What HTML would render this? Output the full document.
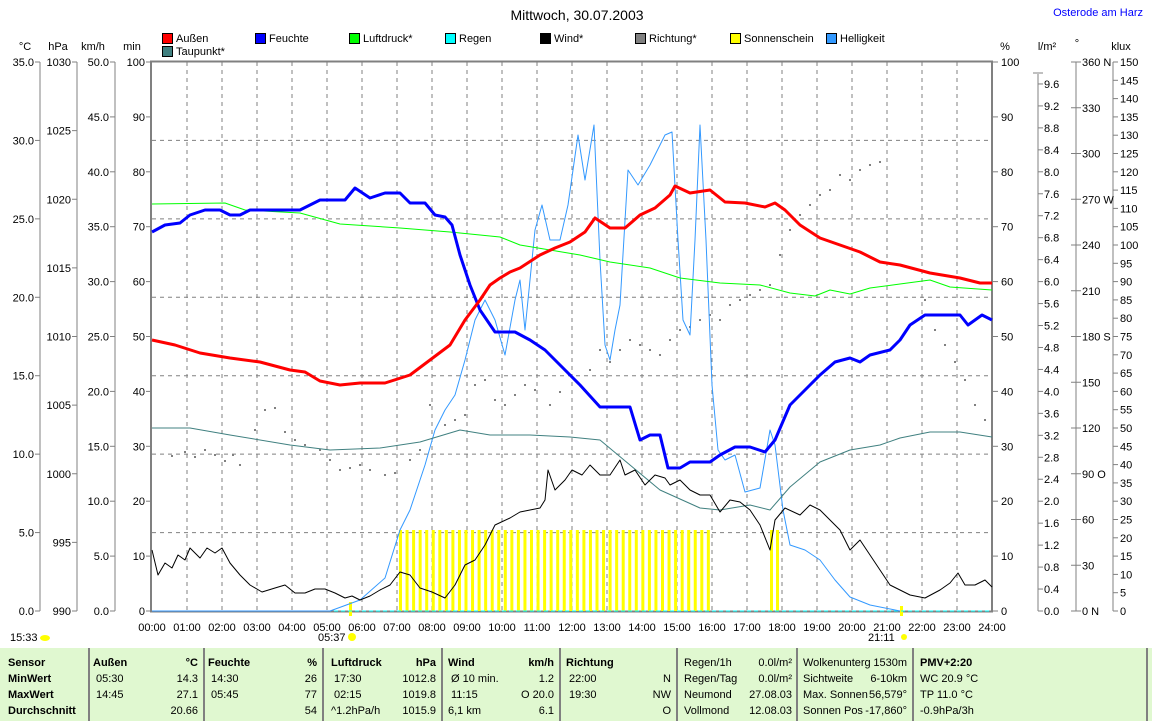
<!DOCTYPE html>
<html><head><meta charset="utf-8"><style>
body{margin:0;background:#fff;}
svg{display:block;font-family:"Liberation Sans",sans-serif;font-size:11px;}
</style></head><body>
<svg id="s" width="1152" height="721" xmlns="http://www.w3.org/2000/svg"></svg>
<script>
const S=document.getElementById('s');let h='';
const T=(x,y,t,a='start',extra='')=>{h+=`<text x="${x}" y="${y}" text-anchor="${a}" ${extra}>${t}</text>`;};
const L=(x1,y1,x2,y2,c='#808080',w=1,d='')=>{h+=`<line x1="${x1}" y1="${y1}" x2="${x2}" y2="${y2}" stroke="${c}" stroke-width="${w}" ${d?`stroke-dasharray="${d}"`:''}/>`;};
const P=(pts,c,w=1)=>{h+=`<polyline fill="none" stroke="${c}" stroke-width="${w}" stroke-linejoin="round" points="${pts.map(p=>p.join(',')).join(' ')}"/>`;};
const Y0=611,Y1=62,H=549;
T(577,20,'Mittwoch, 30.07.2003','middle','font-size="14"');
T(1143,16,'Osterode am Harz','end','fill="#0000ff"');
const leg=[[163,38,'#ff0000','Außen'],[256,38,'#0000ff','Feuchte'],[350,38,'#00ff00','Luftdruck*'],[446,38,'#00ffff','Regen'],[541,38,'#000000','Wind*'],[636,38,'#808080','Richtung*'],[731,38,'#ffff00','Sonnenschein'],[827,38,'#3399ff','Helligkeit'],[163,51,'#408080','Taupunkt*']];
leg.forEach(l=>{h+=`<rect x="${l[0]-0.5}" y="${l[1]-4.5}" width="10" height="10" fill="${l[2]}" stroke="#000"/>`;T(l[0]+13,l[1]+4,l[3]);});
T(25,50,'°C','middle');T(58,50,'hPa','middle');T(93,50,'km/h','middle');T(132,50,'min','middle');
T(1005,50,'%','middle');T(1047,50,'l/m²','middle');T(1077,47,'°','middle');T(1121,50,'klux','middle');
for(let i=1;i<24;i++){const x=152+i*35;L(x,Y1,x,Y0,'#808080',1,'4,4');}
for(let k=1;k<7;k++){const y=Y0-k*78.43;L(152,y,992,y,'#808080',1,'4,4');}
L(40,Y1,40,Y0);L(77,Y1,77,Y0);L(115,Y1,115,Y0);L(1038,Y1+12,1038,Y0);L(1076,Y1,1076,Y0);L(1113,Y1,1113,Y0);
for(let k=0;k<=7;k++){const y=Y0-k*H/7;L(35,y,40,y);T(34,y+4,(k*5).toFixed(1),'end');}
for(let k=0;k<=8;k++){const y=Y0-k*H/8;L(72,y,77,y);T(71,y+4,990+k*5,'end');}
for(let k=0;k<=10;k++){const y=Y0-k*H/10;L(110,y,115,y);T(109,y+4,(k*5).toFixed(1),'end');L(146,y,151,y);T(145,y+4,k*10,'end');L(992,y,998,y);T(1001,y+4,k*10);}
for(let k=0;k<=24;k++){const y=Y0-k*H/25;L(1038,y,1043,y);T(1044,y+4,(k*0.4).toFixed(1));}
L(1033,Y1+11,1043,Y1+11);
const dir={0:' N',3:' O',6:' S',9:' W',12:' N'};
for(let k=0;k<=12;k++){const y=Y0-k*H/12;L(1071,y,1081,y);T(1082,y+4,(k*30)+(dir[k]||''));}
for(let k=0;k<=30;k++){const y=Y0-k*H/30;L(1113,y,1118,y);T(1120,y+4,k*5);}
h+=`<rect x="151" y="61.5" width="841" height="550" fill="none" stroke="#808080" stroke-width="2"/>`;
for(let i=0;i<=24;i++){T(152+i*35,631,(i<10?'0':'')+i+':00','middle');}
for(let x=399;x<=712;x+=6.55){h+=`<rect x="${x}" y="530" width="3" height="81" fill="#ffff00"/>`;}
h+=`<rect x="770" y="530" width="3" height="81" fill="#ffff00"/><rect x="776" y="530" width="3" height="81" fill="#ffff00"/>`;
h+=`<rect x="349" y="602" width="3" height="14" fill="#ffff00"/><rect x="900" y="606" width="3" height="10" fill="#ffff00"/>`;
L(152,611,992,611,'#00ffff',1,'4,3');
const rd=[[172,456],[185,452],[195,457],[205,450],[215,455],[225,461],[233,455],[240,465],[255,430],[265,410],[275,408],[285,432],[295,440],[305,445],[320,450],[330,460],[340,470],[350,468],[360,465],[370,470],[385,475],[395,473],[410,460],[420,450],[430,405],[445,425],[455,420],[465,415],[475,385],[485,380],[495,400],[505,405],[515,395],[525,385],[535,390],[550,405],[560,392],[570,375],[580,385],[590,370],[600,350],[610,362],[620,350],[630,340],[640,345],[650,350],[660,355],[670,340],[680,330],[690,327],[700,320],[710,315],[720,320],[730,305],[740,300],[750,295],[760,290],[770,285],[780,255],[790,230],[800,215],[810,205],[820,195],[830,190],[840,175],[850,180],[860,170],[870,165],[880,162],[925,300],[935,330],[945,345],[955,362],[965,380],[975,405],[985,420],[992,450]];
rd.forEach(p=>{h+=`<rect x="${p[0]-1}" y="${p[1]-1}" width="2" height="2" fill="#808080"/>`;});
P([[152,611],[330,611],[360,600],[385,578],[400,530],[410,510],[425,465],[435,430],[445,410],[455,395],[465,360],[475,320],[485,300],[495,320],[505,355],[515,300],[520,280],[525,330],[535,230],[542,205],[550,240],[560,240],[568,205],[578,135],[585,180],[594,125],[600,260],[605,345],[610,360],[615,330],[620,305],[628,170],[638,185],[650,165],[665,135],[672,132],[678,240],[683,320],[690,335],[695,240],[700,125],[706,240],[712,385],[718,450],[725,460],[735,455],[745,492],[760,488],[770,430],[775,445],[783,510],[790,545],[805,550],[820,560],[835,580],[850,597],[870,605],[900,611]],'#3399ff',1);
P([[152,428],[190,428],[230,435],[290,445],[330,450],[380,448],[420,442],[460,430],[490,435],[530,435],[570,437],[600,440],[630,465],[660,490],[700,508],[720,510],[750,505],[770,510],[790,487],[820,462],[850,450],[880,445],[900,438],[930,432],[960,432],[992,437]],'#408080',1);
P([[152,204],[225,203],[245,210],[300,213],[340,224],[400,228],[450,232],[500,237],[520,245],[550,250],[580,255],[610,262],[650,268],[680,278],[720,283],[760,285],[790,293],[815,296],[830,290],[850,294],[870,288],[900,284],[930,280],[950,287],[992,290]],'#00ff00',1);
P([[152,550],[158,575],[165,563],[172,568],[178,555],[185,560],[190,548],[200,558],[207,548],[215,553],[222,548],[230,563],[240,575],[250,585],[262,592],[275,588],[285,585],[295,593],[305,593],[315,589],[325,589],[335,593],[345,598],[352,596],[360,600],[370,596],[380,590],[390,585],[400,572],[410,575],[420,588],[432,592],[445,598],[455,585],[465,565],[475,560],[485,545],[495,525],[510,518],[520,512],[530,510],[540,508],[545,500],[548,470],[555,490],[565,480],[572,470],[582,475],[590,465],[600,475],[610,475],[620,460],[625,475],[635,470],[645,485],[655,475],[665,478],[670,485],[680,480],[690,490],[700,495],[710,495],[720,512],[730,500],[740,502],[750,510],[760,525],[770,550],[775,520],[785,508],[800,515],[810,505],[820,510],[830,520],[840,530],[850,550],[860,540],[870,555],[880,570],[890,585],[900,590],[910,595],[925,598],[940,590],[950,583],[958,573],[965,585],[975,585],[985,580],[992,587]],'#000000',1);
P([[152,232],[165,225],[180,223],[190,215],[205,210],[220,210],[230,215],[240,215],[250,210],[300,210],[320,200],[345,200],[355,188],[370,198],[385,193],[400,193],[410,203],[425,203],[435,215],[445,217],[452,225],[460,255],[470,285],[480,310],[495,332],[515,332],[530,340],[545,350],[560,365],[580,385],[600,407],[630,407],[640,440],[650,435],[660,435],[668,468],[680,468],[690,462],[710,462],[720,455],[735,447],[750,447],[765,452],[775,440],[790,405],[810,385],[820,375],[835,362],[850,358],[860,362],[870,355],[890,350],[900,340],[910,325],[925,315],[960,315],[968,325],[982,315],[992,320]],'#0000ff',3);
P([[152,340],[175,345],[200,353],[230,358],[260,362],[290,370],[305,372],[320,381],[340,385],[360,383],[385,383],[410,375],[430,360],[450,345],[465,320],[480,300],[490,285],[500,278],[510,272],[520,268],[540,255],[555,248],[570,242],[585,232],[595,218],[610,228],[625,228],[640,215],[655,208],[670,195],[675,186],[690,193],[710,190],[725,202],[745,203],[765,207],[775,203],[785,210],[800,225],[820,238],[840,245],[860,252],[880,262],[900,265],[930,273],[960,278],[980,283],[992,283]],'#ff0000',3);
T(10,641,'15:33');h+=`<ellipse cx="45" cy="638" rx="5" ry="3" fill="#ffff00"/>`;
T(318,641,'05:37');h+=`<circle cx="352" cy="637" r="4" fill="#ffff00"/>`;
T(868,641,'21:11');h+=`<circle cx="904" cy="637" r="3" fill="#ffff00"/>`;
h+=`<rect x="0" y="648" width="1152" height="73" fill="#e0f8d0"/>`;
[89,204,323,442,560,677,797,913,1147].forEach(x=>L(x,648,x,721,'#808080',2));
const B='font-weight="bold"';
const rows=[662,678,694,710];
T(8,rows[0]+4,'Sensor','start',B);T(8,rows[1]+4,'MinWert','start',B);T(8,rows[2]+4,'MaxWert','start',B);T(8,rows[3]+4,'Durchschnitt','start',B);
const cols=[
[93,198,'Außen','°C',[['05:30','14.3'],['14:45','27.1'],['','20.66']]],
[208,317,'Feuchte','%',[['14:30','26'],['05:45','77'],['','54']]],
[331,436,'Luftdruck','hPa',[['17:30','1012.8'],['02:15','1019.8'],['^1.2hPa/h','1015.9']]],
[448,554,'Wind','km/h',[['Ø 10 min.','1.2'],['11:15','O 20.0'],['6,1 km','6.1']]],
[566,671,'Richtung','',[['22:00','N'],['19:30','NW'],['','O']]]];
cols.forEach(c=>{T(c[0],rows[0]+4,c[2],'start',B);T(c[1],rows[0]+4,c[3],'end',B);c[4].forEach((r,i)=>{T(c[0]+(i==2&&c[0]>300?0:3),rows[i+1]+4,r[0]);T(c[1],rows[i+1]+4,r[1],'end');});});
[['Regen/1h','0.0l/m²'],['Regen/Tag','0.0l/m²'],['Neumond','27.08.03'],['Vollmond','12.08.03']].forEach((r,i)=>{T(684,rows[i]+4,r[0]);T(792,rows[i]+4,r[1],'end');});
[['Wolkenunterg','1530m'],['Sichtweite','6-10km'],['Max. Sonnen','56,579°'],['Sonnen Pos','-17,860°']].forEach((r,i)=>{T(803,rows[i]+4,r[0]);T(907,rows[i]+4,r[1],'end');});
T(920,rows[0]+4,'PMV+2:20','start',B);T(920,rows[1]+4,'WC 20.9 °C');T(920,rows[2]+4,'TP 11.0 °C');T(920,rows[3]+4,'-0.9hPa/3h');
S.innerHTML=h;
</script>
</body></html>
